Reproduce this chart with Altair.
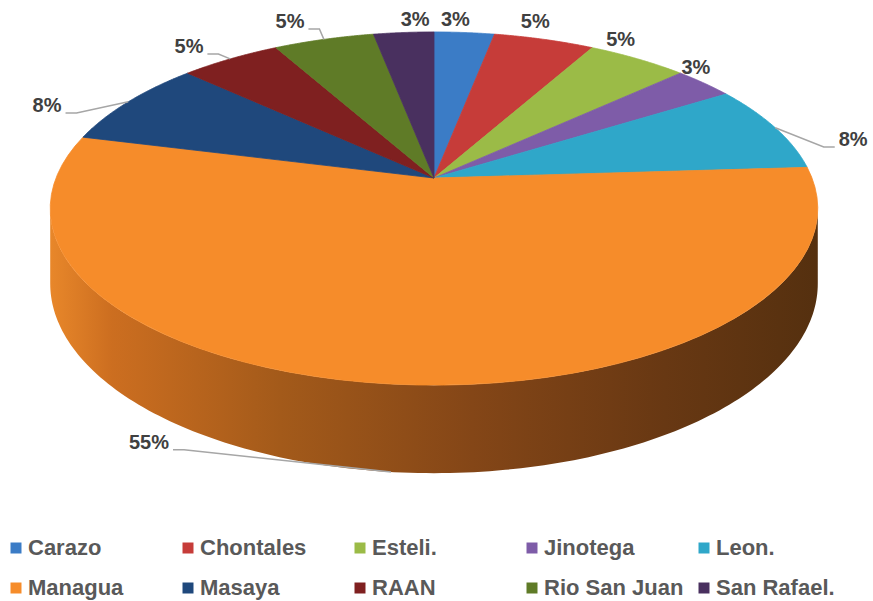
import altair as alt
import pandas as pd

# ---------------- data ----------------
categories = ["Carazo", "Chontales", "Esteli.", "Jinotega", "Leon.",
              "Managua", "Masaya", "RAAN", "Rio San Juan", "San Rafael."]
shares = [3, 5, 5, 3, 8, 55, 8, 5, 5, 3]
colors = ["#3B7CC6", "#C63C39", "#9BBB47", "#7E5CA8", "#2FA7C9",
          "#F68C2A", "#1F487C", "#7F2020", "#5F7B27", "#49305F"]

# ---------------- layout (projected 3D disc geometry, label placement) ----------------
W, H = 873, 601
CX, CY = 434, 178      # apex of the pie in pixels
R = 378                # horizontal radius
RH = 171.3             # vertical radius factor
K = 0.173              # perspective factor
DEPTH = 72.8           # wall thickness
N = 60                 # points per slice arc
M = 160                # points along the wall

label_delta = {"Carazo": -1.9, "Chontales": -3.4, "Esteli.": -6.3, "Jinotega": -5.0,
               "Leon.": 6.7, "Managua": 20.6, "Masaya": -6.5, "RAAN": -2.5,
               "Rio San Juan": -2.9, "San Rafael.": 2.3}
label_radius = {"Carazo": 1.10, "Chontales": 1.127, "Esteli.": 1.098, "Jinotega": 1.062,
                "Leon.": 1.176, "Managua": 1.357, "Masaya": 1.193, "RAAN": 1.155,
                "Rio San Juan": 1.172, "San Rafael.": 1.099}
with_leader = ["Leon.", "Managua", "Masaya", "RAAN", "Rio San Juan"]
on_wall = ["Managua"]

df = pd.DataFrame({
    "cat": categories,
    "share": shares,
    "idx": list(range(len(categories))),
})
df["dang"] = df["cat"].map(label_delta)
df["lr"] = df["cat"].map(label_radius)
df["leader"] = df["cat"].isin(with_leader).astype(int)
df["wall"] = df["cat"].isin(on_wall).astype(int)


def PX(u, v):
    return f"{CX} + {R}*({u})/(1+{K}*({v}))"


def PY(u, v):
    return f"{CY} - {RH}*({v})/(1+{K}*({v}))"


xs = alt.Scale(domain=[0, W], range=[0, W], nice=False, zero=False)
ys = alt.Scale(domain=[0, H], range=[0, H], nice=False, zero=False)
cs = alt.Scale(domain=categories, range=colors)

base = (
    alt.Chart(df)
    .transform_window(cum="sum(share)", sort=[alt.SortField("idx")], frame=[None, 0])
    .transform_joinaggregate(total="sum(share)")
    .transform_calculate(
        a0="2*PI*(datum.cum - datum.share)/datum.total",
        a1="2*PI*datum.cum/datum.total",
    )
    .transform_calculate(am="(datum.a0 + datum.a1)/2",
                         lab="datum.share + '%'")
    .transform_calculate(
        la="datum.am + datum.dang*PI/180",
    )
    .transform_calculate(
        lu="datum.lr*sin(datum.la)",
        lv="datum.lr*cos(datum.la)",
        au="sin(datum.am)",
        av="cos(datum.am)",
    )
    .transform_calculate(
        lx=PX("datum.lu", "datum.lv"),
        ly=PY("datum.lu", "datum.lv"),
        ax=PX("datum.au", "datum.av"),
        ay=PY("datum.au", "datum.av") + f" + datum.wall*{DEPTH}/(1+{K}*datum.av)",
    )
)

# side wall of the disc (front half), drawn as a closed polygon
wall = (
    base.transform_filter("datum.idx == 0")
    .transform_calculate(seq=f"sequence(0,{2 * M + 2})")
    .transform_flatten(["seq"], as_=["j"])
    .transform_calculate(
        ang0=f"acos(-{K})",
        kk=f"datum.j <= {M} ? datum.j : {2 * M + 1} - datum.j",
        bottom=f"datum.j > {M} ? 1 : 0",
    )
    .transform_calculate(ang=f"datum.ang0 + (2*PI - 2*datum.ang0)*datum.kk/{M}")
    .transform_calculate(u="sin(datum.ang)", v="cos(datum.ang)")
    .transform_calculate(
        wx=PX("datum.u", "datum.v"),
        wy=PY("datum.u", "datum.v") + f" + datum.bottom*{DEPTH}/(1+{K}*datum.v)",
    )
    .mark_line(
        filled=True,
        interpolate="linear-closed",
        strokeWidth=0,
        fill=alt.Gradient(
            gradient="linear",
            stops=[
                alt.GradientStop(color="#E8872A", offset=0),
                alt.GradientStop(color="#CC6E20", offset=0.08),
                alt.GradientStop(color="#A35A1A", offset=0.3),
                alt.GradientStop(color="#844617", offset=0.55),
                alt.GradientStop(color="#683813", offset=0.8),
                alt.GradientStop(color="#55300F", offset=1),
            ],
            x1=0, x2=1, y1=0, y2=0,
        ),
    )
    .encode(
        x=alt.X("wx:Q", scale=xs, axis=None),
        y=alt.Y("wy:Q", scale=ys, axis=None),
        order="j:Q",
    )
)

# top face slices
slices = (
    base.transform_calculate(seq=f"sequence(0,{N + 2})")
    .transform_flatten(["seq"], as_=["t"])
    .transform_calculate(ang=f"datum.a0 + (datum.a1-datum.a0)*min(datum.t,{N})/{N}")
    .transform_calculate(
        u=f"datum.t > {N} ? 0 : sin(datum.ang)",
        v=f"datum.t > {N} ? 0 : cos(datum.ang)",
    )
    .transform_calculate(px=PX("datum.u", "datum.v"), py=PY("datum.u", "datum.v"))
    .mark_line(filled=True, interpolate="linear-closed", strokeWidth=0.8)
    .encode(
        x=alt.X("px:Q", scale=xs, axis=None),
        y=alt.Y("py:Q", scale=ys, axis=None),
        color=alt.Color(
            "cat:N", scale=cs,
            legend=alt.Legend(
                orient="none", legendX=5, legendY=537, columns=5,
                direction="horizontal", gridAlign="all",
                symbolType="square", symbolSize=121, symbolStrokeWidth=0,
                labelFontSize=22, labelFont="Liberation Sans", labelFontWeight="bold",
                labelColor="#595959", labelOffset=1, labelLimit=400,
                columnPadding=9, rowPadding=18, padding=0, title=None,
            ),
        ),
        stroke=alt.Stroke("cat:N", scale=cs, legend=None),
        detail="cat:N",
        order="t:Q",
    )
)

# leader lines
leaders = (
    base.transform_filter("datum.leader == 1")
    .transform_calculate(seq="sequence(0,3)")
    .transform_flatten(["seq"], as_=["p"])
    .transform_calculate(
        side="datum.lx < datum.ax ? 1 : -1",
        hw="0.5*(11.1*(length(datum.lab)-1) + 17.8)",
    )
    .transform_calculate(
        qx="datum.p == 0 ? datum.ax : datum.lx + datum.side*(datum.hw + (datum.p == 1 ? 15 : 4))",
        qy="datum.p == 0 ? datum.ay : datum.ly + 7",
    )
    .mark_line(color="#A6A6A6", strokeWidth=1.5)
    .encode(
        x=alt.X("qx:Q", scale=xs, axis=None),
        y=alt.Y("qy:Q", scale=ys, axis=None),
        detail="cat:N",
        order="p:Q",
    )
)

labels = (
    base.mark_text(fontSize=20, fontWeight="bold", font="Liberation Sans",
                   color="#404040", align="center", baseline="middle")
    .encode(
        x=alt.X("lx:Q", scale=xs, axis=None),
        y=alt.Y("ly:Q", scale=ys, axis=None),
        text="lab:N",
    )
)

chart = (
    alt.layer(wall, slices, leaders, labels)
    .properties(width=W, height=H, padding=0,
                autosize=alt.AutoSizeParams(type="none"))
    .configure_view(stroke=None)
)

chart.save("out.html", embed_options={"renderer": "svg", "actions": False})
